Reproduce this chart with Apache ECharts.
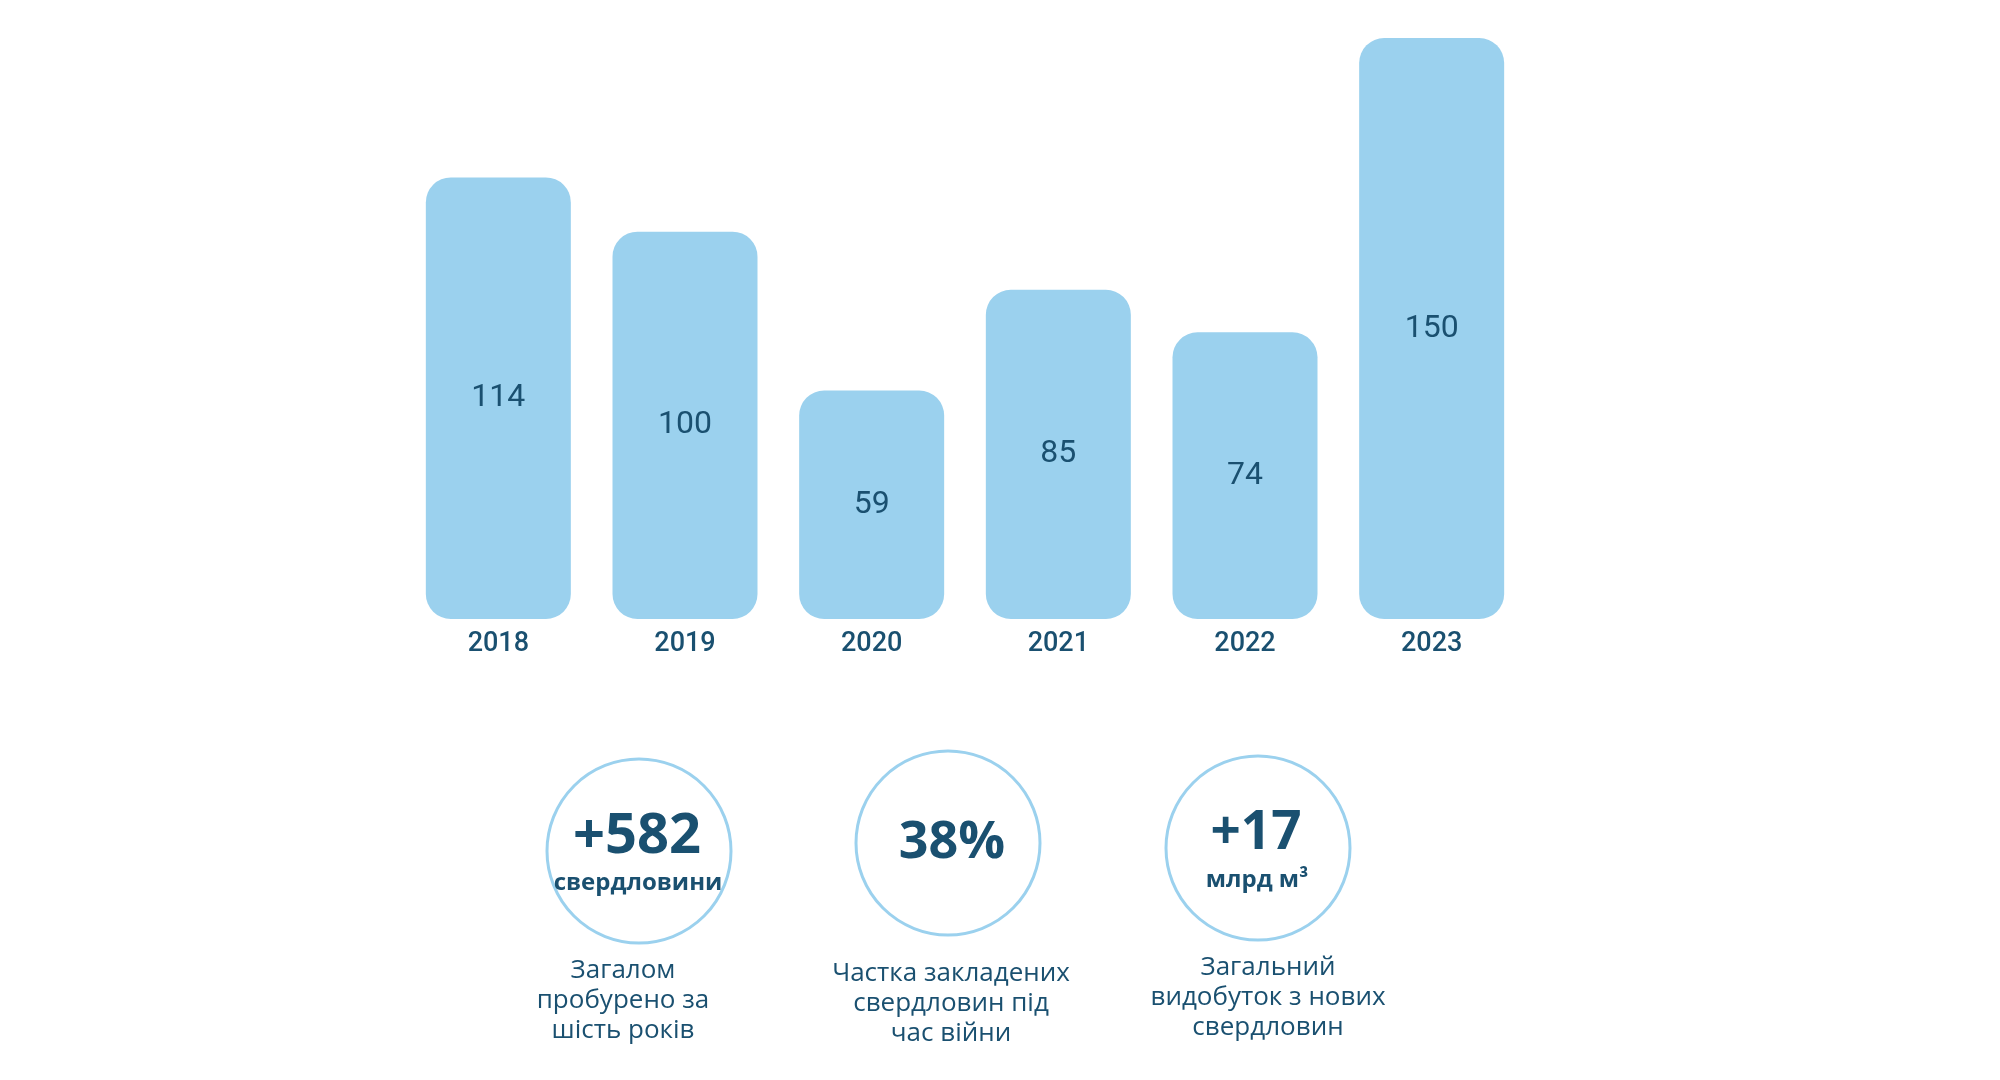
<!DOCTYPE html>
<html>
<head>
<meta charset="utf-8">
<script src="https://cdn.jsdelivr.net/npm/echarts@6/dist/echarts.min.js"></script>
<style>
html,body{margin:0;padding:0;background:#fff;}
#chart{width:2000px;height:1080px;}
</style>
</head>
<body>
<div id="chart"></div>
<script>
const years = ['2018', '2019', '2020', '2021', '2022', '2023'];
const wells = [114, 100, 59, 85, 74, 150];
const kpiValues = ['+582', '38%', '+17'];
const kpiUnits = ['свердловини', '', 'млрд м³'];
const kpiCaptions = [
  'Загалом\nпробурено за\nшість років',
  'Частка закладених\nсвердловин під\nчас війни',
  'Загальний\nвидобуток з нових\nсвердловин'
];

const TEXT = '#1a5070';
const BAR = '#9bd1ee';
const FONT = '"Open Sans", "Noto Sans", sans-serif';
const NUMFONT = 'Roboto, "Open Sans", sans-serif';

const kpiLayout = [
  {cx: 639, cy: 851, capX: 623, capY: 1001, size: 56},
  {cx: 948, cy: 843, capX: 951, capY: 1004, size: 52},
  {cx: 1258, cy: 848, capX: 1268, capY: 998, size: 53}
];

const graphic = [];
kpiValues.forEach((v, i) => {
  const L = kpiLayout[i];
  graphic.push({
    type: 'circle',
    shape: {cx: L.cx, cy: L.cy, r: 92},
    style: {fill: 'none', stroke: BAR, lineWidth: 3}
  });
  const hasUnit = kpiUnits[i] !== '';
  graphic.push({
    type: 'text',
    x: L.cx + (i === 1 ? 4 : -2),
    y: hasUnit ? L.cy - 14 : L.cy,
    style: {
      text: v, fill: TEXT, align: 'center', verticalAlign: 'middle',
      font: 'bold ' + L.size + 'px ' + FONT
    }
  });
  if (hasUnit) {
    graphic.push({
      type: 'text',
      x: L.cx - 1,
      y: L.cy + 32,
      style: {
        text: kpiUnits[i], fill: TEXT, align: 'center', verticalAlign: 'middle',
        font: 'bold 24px ' + FONT
      }
    });
  }
  graphic.push({
    type: 'text',
    x: L.capX,
    y: L.capY,
    style: {
      text: kpiCaptions[i], fill: TEXT, align: 'center', verticalAlign: 'middle',
      font: '500 26px ' + FONT, lineHeight: 30
    }
  });
});

const chart = echarts.init(document.getElementById('chart'));
chart.setOption({
  animation: false,
  backgroundColor: '#ffffff',
  grid: {left: 405, right: 475, top: 38, bottom: 461},
  xAxis: {
    type: 'category',
    data: years,
    axisLine: {show: false},
    axisTick: {show: false},
    axisLabel: {
      margin: 12, color: TEXT, fontSize: 27, fontWeight: 500, fontFamily: NUMFONT
    }
  },
  yAxis: {
    type: 'value', min: 0, max: 150, show: false, splitLine: {show: false}
  },
  series: [{
    type: 'bar',
    data: wells,
    barWidth: 145,
    itemStyle: {color: BAR, borderRadius: 25},
    label: {
      show: true, position: 'inside', color: TEXT, fontSize: 32, fontWeight: 400, fontFamily: NUMFONT
    }
  }],
  graphic: graphic
});
</script>
</body>
</html>
